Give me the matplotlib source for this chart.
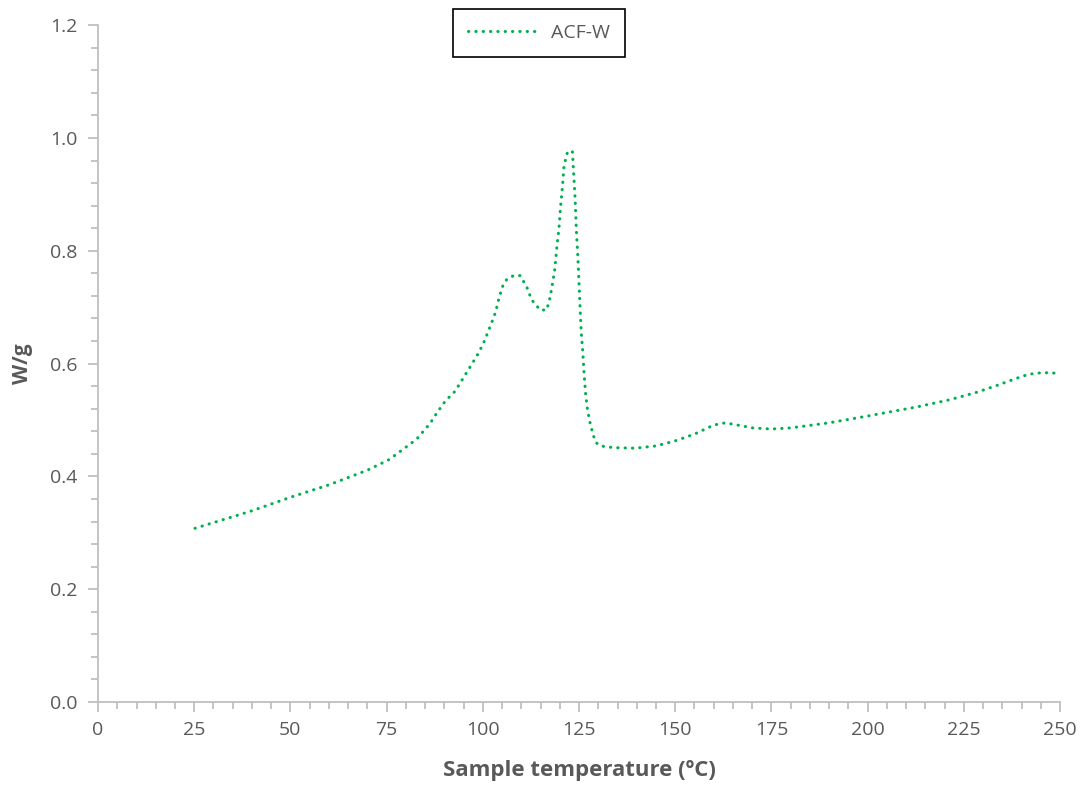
import matplotlib
matplotlib.use("Agg")
import matplotlib.pyplot as plt
from matplotlib.ticker import MultipleLocator

plt.rcParams['font.family'] = ['Open Sans', 'DejaVu Sans']

# DSC trace, temperature (ºC) vs heat flow (W/g)
temp = [25.2, 30, 40, 50, 60, 70, 74.2, 75.7, 82.8, 86.3, 88.2, 90.3, 92.8, 95.6,
        98.4, 100.1, 102.1, 103.3, 104.2, 105.3, 106.3, 108.0, 109.7, 111.4, 112.7,
        114.9, 116.6, 117.5, 118.1, 118.7, 119.2, 119.8, 120.2, 120.7, 121.1, 122.0,
        122.7, 123.3, 123.5, 124.0, 124.3, 124.7, 125.0, 125.3, 125.6, 126.0, 126.3,
        126.7, 127.2, 127.9, 128.7, 129.4, 130.6, 133.9, 139.6, 145, 150, 155, 160,
        163, 167, 170, 175, 180, 190, 200, 203.9, 212.7, 221.4, 228.3, 233.5, 238.3,
        241.8, 245.4, 249.1, 250]
wg = [0.308, 0.318, 0.339, 0.363, 0.385, 0.411, 0.425, 0.430, 0.466, 0.494, 0.514,
      0.534, 0.551, 0.582, 0.613, 0.635, 0.669, 0.691, 0.716, 0.740, 0.750, 0.756,
      0.756, 0.736, 0.713, 0.695, 0.695, 0.718, 0.742, 0.767, 0.804, 0.841, 0.878,
      0.914, 0.951, 0.975, 0.978, 0.975, 0.949, 0.890, 0.837, 0.789, 0.742, 0.695,
      0.653, 0.618, 0.583, 0.547, 0.518, 0.494, 0.473, 0.460, 0.454, 0.451, 0.450,
      0.454, 0.463, 0.475, 0.491, 0.495, 0.490, 0.486, 0.484, 0.486, 0.495, 0.507,
      0.512, 0.523, 0.536, 0.549, 0.561, 0.573, 0.581, 0.584, 0.583, 0.582]

gray = '#595959'
spine = '#bfbfbf'

fig = plt.figure(figsize=(10.82, 7.87), dpi=100)
ax = fig.add_axes([0.0906, 0.108, 0.8891, 0.860])

ax.plot(temp, wg, color='#00b050', lw=2.2, linestyle=(0, (0.1, 2.3)),
        dash_capstyle='round', label='ACF-W')

ax.set_xlim(0, 250)
ax.set_ylim(0, 1.2)
ax.xaxis.set_major_locator(MultipleLocator(25))
ax.xaxis.set_minor_locator(MultipleLocator(5))
ax.yaxis.set_major_locator(MultipleLocator(0.2))
ax.yaxis.set_minor_locator(MultipleLocator(0.04))
ax.yaxis.set_major_formatter(plt.FormatStrFormatter('%.1f'))

for s in ['top', 'right']:
    ax.spines[s].set_visible(False)
for s in ['left', 'bottom']:
    ax.spines[s].set_color(spine)
    ax.spines[s].set_linewidth(1.3)

ax.tick_params(which='both', colors=spine, labelcolor=gray, labelsize=14, width=1.3)
ax.tick_params(which='major', length=7)
ax.tick_params(which='minor', length=5)
ax.tick_params(axis='x', pad=7)
ax.tick_params(axis='y', pad=8)

ax.set_xlabel('Sample temperature (ºC)', fontsize=16, fontweight='bold', color=gray, labelpad=15)
ax.set_ylabel('W/g', fontsize=15, fontweight='bold', color=gray, labelpad=12)

leg = fig.legend(loc='upper center', bbox_to_anchor=(0.498, 0.988), fontsize=14,
                 fancybox=False, framealpha=1, edgecolor='black', handlelength=3.6,
                 borderpad=0.75, borderaxespad=0, handletextpad=0.7)
leg.get_frame().set_linewidth(1.2)
for t in leg.get_texts():
    t.set_color(gray)

fig.savefig('out.png', dpi=100)
